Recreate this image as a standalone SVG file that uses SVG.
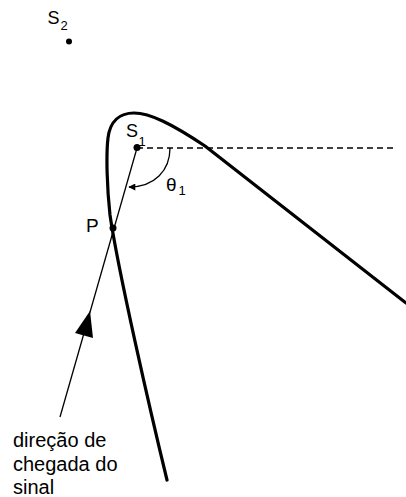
<svg xmlns="http://www.w3.org/2000/svg" width="406" height="497" viewBox="0 0 406 497">
<style>
.lbl{font-family:"Liberation Sans",Arial,sans-serif;fill:#000}
.thin{fill:none;stroke:#000;stroke-width:1.3}
.thick{fill:none;stroke:#000;stroke-width:3.2;stroke-linecap:round;stroke-linejoin:round}
.dash{fill:none;stroke:#000;stroke-width:1.3;stroke-dasharray:6 4}
.dot{fill:#000}
</style>
<defs>
<marker id="arcHead" viewBox="0 0 10 10" refX="9" refY="5" markerWidth="9" markerHeight="7" markerUnits="userSpaceOnUse" orient="auto">
<path d="M0,0 L10,5 L0,10 Z" fill="#000"/>
</marker>
</defs>
<rect width="406" height="497" fill="#fff"/>
<g id="connectors">
<path id="curve" class="thick" d="M167,480 C150,410 118,270 110,215 C107,188 106,155 108,138 C110,121 120,113 134,113 C150,113 172,124 205,146 L406,303"/>
<path id="reference-line" class="dash" d="M137,148 L397,148"/>
<path id="signal-line" class="thin" d="M137,148 L60,417"/>
<polygon id="signal-arrow" points="90,311 75,333 93,338" fill="#000"/>
<path id="angle-arc" class="thin" d="M170,148 C170,170 155,187 129,187" marker-end="url(#arcHead)"/>
</g>
<g id="S2">
<circle class="dot" cx="69" cy="41.5" r="3"/>
<text class="lbl" x="47.5" y="24" font-size="18">S</text>
<text class="lbl" x="60.5" y="30" font-size="13">2</text>
</g>
<g id="S1">
<circle class="dot" cx="137" cy="147.5" r="3.5"/>
<text class="lbl" x="126" y="137" font-size="18">S</text>
<text class="lbl" x="138.5" y="145.5" font-size="13">1</text>
</g>
<g id="P">
<circle class="dot" cx="113" cy="228" r="3.5"/>
<text class="lbl" x="86" y="232" font-size="19">P</text>
</g>
<g id="theta1">
<text class="lbl" x="166" y="191" font-size="19">θ</text>
<text class="lbl" x="178.5" y="195" font-size="13">1</text>
</g>
<g id="caption">
<text class="lbl" x="13" y="447" font-size="20">direção de</text>
<text class="lbl" x="13" y="470.5" font-size="20">chegada do</text>
<text class="lbl" x="13" y="494" font-size="20">sinal</text>
</g>
</svg>
